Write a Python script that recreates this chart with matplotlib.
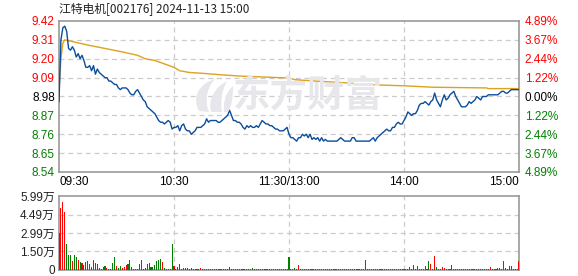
import matplotlib
matplotlib.use("Agg")
import matplotlib.pyplot as plt
from matplotlib.path import Path
from matplotlib.patches import PathPatch
from matplotlib.transforms import blended_transform_factory

# ---- data -------------------------------------------------------------
title = "江特电机[002176] 2024-11-13 15:00"
prev_close = 8.98

# minute prices, 09:30 .. 11:30 (121 values) then 13:01 .. 15:00 (120 values)
price = [
    8.95, 9.31, 9.38, 9.39, 9.36, 9.26, 9.25, 9.27, 9.25, 9.21,
    9.23, 9.20, 9.22, 9.19, 9.15, 9.15, 9.16, 9.13, 9.16, 9.11,
    9.14, 9.12, 9.11, 9.10, 9.09, 9.09, 9.07, 9.07, 9.06, 9.05,
    9.05, 9.03, 9.02, 9.03, 9.03, 9.03, 9.02, 9.00, 8.99, 8.99,
    9.01, 9.02, 9.00, 8.98, 8.96, 8.95, 8.92, 8.91, 8.90, 8.89,
    8.88, 8.86, 8.84, 8.83, 8.83, 8.82, 8.83, 8.84, 8.83, 8.79,
    8.80, 8.80, 8.81, 8.78, 8.81, 8.82, 8.79, 8.78, 8.78, 8.76,
    8.77, 8.78, 8.80, 8.80, 8.80, 8.81, 8.82, 8.85, 8.83, 8.84,
    8.84, 8.84, 8.84, 8.83, 8.83, 8.84, 8.85, 8.86, 8.87, 8.90,
    8.87, 8.84, 8.84, 8.83, 8.83, 8.82, 8.80, 8.79, 8.81, 8.80,
    8.81, 8.80, 8.80, 8.81, 8.80, 8.82, 8.84, 8.83, 8.82, 8.82,
    8.81, 8.81, 8.80, 8.79, 8.79, 8.78, 8.78, 8.78, 8.79, 8.80,
    8.76,
    8.74, 8.74, 8.73, 8.72, 8.74, 8.74, 8.76, 8.75, 8.76, 8.74,
    8.76, 8.73, 8.74, 8.73, 8.74, 8.72, 8.74, 8.72, 8.73, 8.72,
    8.72, 8.72, 8.72, 8.72, 8.72, 8.73, 8.74, 8.73, 8.72, 8.72,
    8.72, 8.72, 8.74, 8.74, 8.72, 8.72, 8.72, 8.72, 8.72, 8.72,
    8.72, 8.72, 8.73, 8.74, 8.72, 8.74, 8.75, 8.76, 8.77, 8.78,
    8.79, 8.78, 8.78, 8.80, 8.80, 8.82, 8.83, 8.82, 8.82, 8.84,
    8.86, 8.89, 8.88, 8.87, 8.88, 8.88, 8.90, 8.93, 8.94, 8.94,
    8.95, 8.94, 8.93, 8.95, 8.96, 9.00, 8.96, 8.94, 8.92, 8.96,
    8.99, 8.96, 8.97, 8.99, 9.00, 9.01, 8.98, 8.96, 8.94, 8.92,
    8.92, 8.92, 8.93, 8.95, 8.94, 8.95, 8.96, 8.98, 8.97, 8.96,
    8.98, 8.98, 8.98, 8.99, 8.99, 8.99, 8.99, 8.99, 8.99, 9.00,
    9.01, 9.01, 9.00, 9.00, 9.01, 9.02, 9.02, 9.02, 9.02, 9.02,
]

# average-price line (minute index, value)
avg_t = [0, 1, 2, 3, 7, 15, 24, 33, 41, 45, 50, 55, 60, 63, 68, 75, 84,
         93, 101, 110, 120, 123, 135, 148, 160, 170, 181, 195, 223, 224, 240]
avg_v = [9.02, 9.20, 9.29, 9.31, 9.30, 9.28, 9.26, 9.24, 9.22, 9.20, 9.19,
         9.17, 9.15, 9.13, 9.12, 9.115, 9.107, 9.10, 9.096, 9.092, 9.088,
         9.078, 9.069, 9.061, 9.050, 9.046, 9.042, 9.034, 9.030, 9.026, 9.026]

# minute volume, in 万 (10k)
volume = [
    3.02, 5.02, 5.50, 4.69, 2.10, 1.21, 1.21, 0.76, 1.21, 1.08,
    0.81, 0.68, 0.60, 0.41, 0.68, 0.76, 0.49, 0.22, 0.81, 0.60,
    0.49, 0.14, 0.05, 0.22, 0.32, 0.14, 0.08, 0.05, 0.60, 1.08,
    0.32, 0.14, 0.32, 0.14, 0.22, 0.41, 0.49, 0.81, 0.22, 0.11,
    0.08, 0.05, 0.49, 0.81, 0.08, 0.14, 0.49, 0.54, 0.22, 0.27,
    0.38, 0.76, 0.81, 0.89, 0.65, 0.14, 0.05, 0.05, 0.05, 2.10,
    0.32, 0.05, 0.22, 0.49, 0.08, 0.14, 0.14, 0.14, 0.08, 0.14,
    0.05, 0.05, 0.05, 0.05, 0.14, 0.05, 0.05, 0.05, 0.05, 0.05,
    0.05, 0.05, 0.05, 0.05, 0.05, 0.05, 0.05, 0.05, 0.05, 0.22,
    0.05, 0.05, 0.05, 0.05, 0.05, 0.05, 0.11, 0.05, 0.05, 0.05,
    0.05, 0.14, 0.05, 0.05, 0.05, 0.05, 0.05, 0.05, 0.05, 0.05,
    0.05, 0.05, 0.05, 0.08, 0.05, 0.05, 0.05, 0.05, 0.05, 0.05,
    1.08,
    0.05, 0.05, 0.16, 0.05, 0.40, 0.05, 0.05, 0.05, 0.05, 0.05,
    0.05, 0.05, 0.05, 0.05, 0.05, 0.05, 0.05, 0.05, 0.05, 0.05,
    0.05, 0.05, 0.05, 0.05, 0.05, 0.05, 0.05, 0.05, 0.05, 0.05,
    0.05, 0.05, 0.05, 0.05, 0.05, 0.05, 0.05, 0.05, 0.05, 0.81,
    0.05, 0.05, 0.05, 0.05, 0.05, 0.05, 0.05, 0.05, 0.05, 0.05,
    0.05, 0.05, 0.05, 0.05, 0.05, 0.05, 0.05, 0.05, 0.05, 0.05,
    0.05, 0.05, 0.22, 0.05, 0.40, 0.05, 0.32, 0.05, 0.05, 0.05,
    0.32, 0.05, 0.73, 0.49, 0.05, 1.13, 0.22, 0.05, 0.05, 0.22,
    0.14, 0.05, 0.05, 0.05, 0.40, 0.05, 0.05, 0.05, 0.05, 0.05,
    0.05, 0.05, 0.05, 0.05, 0.05, 0.05, 0.05, 0.05, 0.05, 0.05,
    0.05, 0.05, 0.05, 0.05, 0.22, 0.05, 0.05, 0.05, 0.14, 0.16,
    0.05, 0.73, 0.16, 0.05, 0.32, 0.32, 0.05, 0.05, 0.05, 0.73,
]

price_ticks = [9.42, 9.31, 9.20, 9.09, 8.98, 8.87, 8.76, 8.65, 8.54]
pct_labels = ["4.89%", "3.67%", "2.44%", "1.22%", "0.00%",
              "1.22%", "2.44%", "3.67%", "4.89%"]
vol_ticks = [0, 1.50, 2.99, 4.49, 5.99]
vol_labels = ["0", "1.50万", "2.99万", "4.49万", "5.99万"]
time_pos = [0, 60, 120, 180, 240]
time_labels = ["09:30", "10:30", "11:30/13:00", "14:00", "15:00"]

# ---- styling ----------------------------------------------------------
RED = "#ff0000"
GREEN = "#008000"
GRID = "#cccccc"
FRAME = "#999999"
LINE = "#0b4d9c"
AVG = "#dea21c"
MARK = "#e6e6eb"
FONT = ["Liberation Sans", "Noto Sans CJK SC"]
CJK = ["Noto Sans CJK SC", "DejaVu Sans"]
W, H = 578, 276

minutes = list(range(len(price)))

fig = plt.figure(figsize=(W / 100, H / 100), dpi=100)
fig.patch.set_facecolor("white")

ax = fig.add_axes([59 / W, 1 - 172 / H, 460 / W, 151 / H])
axv = fig.add_axes([59 / W, 1 - 270 / H, 460 / W, 74 / H])

for a in (ax, axv):
    a.set_xlim(0, 240)
    for s in a.spines.values():
        s.set_color(FRAME)
        s.set_linewidth(1.2)
    a.tick_params(length=0)
    a.set_xticks([])
    for xv in (60, 120, 180):
        a.axvline(xv, color=GRID, lw=0.9, ls=(0, (4, 3)), zorder=0)

# brand watermark: flame emblem + wordmark
def px(x, y):
    return (x / W, 1 - y / H)

emblem = [
    [(199, 111), (192, 98), (198, 84), (215, 79), (207, 88), (204, 100), (209, 112)],
    [(211, 112), (208, 100), (214, 88), (227, 81), (222, 90), (220, 102), (222, 112)],
    [(224, 112), (223, 102), (226, 92), (233, 86), (233, 96), (232, 106), (228, 112)],
]
for pts in emblem:
    verts = [px(*p) for p in pts] + [px(*pts[0])]
    codes = [Path.MOVETO, Path.CURVE4, Path.CURVE4, Path.CURVE4,
             Path.CURVE4, Path.CURVE4, Path.CURVE4, Path.CLOSEPOLY]
    fig.patches.append(PathPatch(Path(verts, codes), transform=fig.transFigure,
                                 facecolor=MARK, edgecolor="none", zorder=0))
fig.text(308 / W, 1 - 96 / H, "东方财富", family=CJK, fontsize=27,
         fontweight="bold", color=MARK, ha="center", va="center", zorder=0)

# price panel
ax.set_ylim(price_ticks[-1], price_ticks[0])
ax.patch.set_alpha(0)
for lv in price_ticks[1:-1]:
    ax.axhline(lv, color=GRID, lw=0.9, ls=(0, (4, 3)), zorder=0)
ax.plot(avg_t, avg_v, color=AVG, lw=1.0, zorder=3)
ax.plot(minutes, price, color=LINE, lw=1.0, zorder=4)

def side_color(v):
    if v > prev_close + 1e-9:
        return RED
    if v < prev_close - 1e-9:
        return GREEN
    return "black"

ax.set_yticks(price_ticks)
ax.set_yticklabels([f"{v:.2f}" for v in price_ticks], family=FONT, fontsize=8.5)
ax.tick_params(axis="y", pad=3)
for lbl, v in zip(ax.get_yticklabels(), price_ticks):
    lbl.set_color(side_color(v))

axr = ax.twinx()
axr.set_ylim(price_ticks[-1], price_ticks[0])
axr.set_yticks(price_ticks)
axr.set_yticklabels(pct_labels, family=FONT, fontsize=8.5)
axr.tick_params(length=0, pad=4)
for s in axr.spines.values():
    s.set_visible(False)
for lbl, v in zip(axr.get_yticklabels(), price_ticks):
    lbl.set_color(side_color(v))

# time labels under the price panel
tr = blended_transform_factory(ax.transData, ax.transAxes)
aligns = ["left", "center", "center", "center", "right"]
for xv, lab, ha in zip(time_pos, time_labels, aligns):
    ax.text(xv, -0.065, lab, transform=tr, ha=ha, va="center",
            family=FONT, fontsize=8.5, color="black")

# title
fig.text(59 / W, 1 - 9 / H, title, family=CJK, fontsize=8.5,
         color="#222222", ha="left", va="center")

# volume panel
axv.set_ylim(0, vol_ticks[-1])
for lv in vol_ticks[1:-1]:
    axv.axhline(lv, color=GRID, lw=0.9, ls=(0, (4, 3)), zorder=0)
colors = []
for i, p in enumerate(price):
    prev = price[i - 1] if i > 0 else p
    colors.append(RED if p >= prev else GREEN)
axv.bar(minutes, volume, width=0.55, color=colors, align="center", zorder=3)
axv.set_yticks(vol_ticks)
axv.set_yticklabels(vol_labels, family=FONT, fontsize=8.5, color="#222222")
axv.tick_params(axis="y", pad=3)

fig.savefig("out.png", dpi=100)
